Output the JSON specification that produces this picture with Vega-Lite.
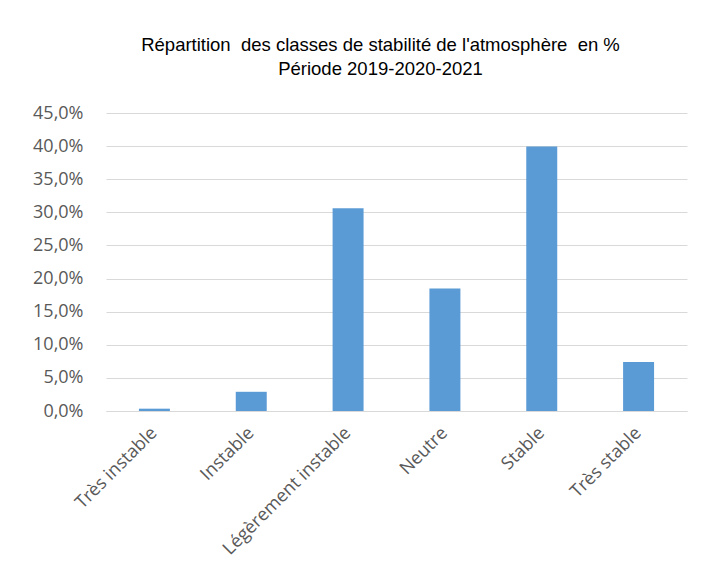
{
  "$schema": "https://vega.github.io/schema/vega-lite/v6.json",
  "width": 581,
  "height": 298,
  "padding": {"left": 32, "top": 35, "right": 16, "bottom": 10},
  "background": "white",
  "title": {
    "text": ["Répartition\u00a0 des classes de stabilité de l'atmosphère\u00a0 en %", "Période 2019-2020-2021"],
    "font": "Liberation Sans",
    "fontSize": 18.5,
    "fontWeight": "normal",
    "color": "#000000",
    "anchor": "middle",
    "dx": -16,
    "offset": 26,
    "lineHeight": 24
  },
  "data": {
    "values": [
      {"classe": "Très instable", "pct": 0.35},
      {"classe": "Instable", "pct": 2.9},
      {"classe": "Légèrement instable", "pct": 30.6},
      {"classe": "Neutre", "pct": 18.5},
      {"classe": "Stable", "pct": 39.95},
      {"classe": "Très stable", "pct": 7.4}
    ]
  },
  "mark": {"type": "bar", "color": "#5B9BD5"},
  "encoding": {
    "x": {
      "field": "classe",
      "type": "nominal",
      "sort": null,
      "scale": {"paddingInner": 0.68, "paddingOuter": 0.34},
      "axis": {
        "title": null,
        "labelAngle": -45,
        "labelAlign": "right",
        "labelBaseline": "middle",
        "labelFont": "Open Sans",
        "labelFontSize": 18,
        "labelColor": "#595959",
        "labelPadding": 19,
        "ticks": false,
        "domain": true,
        "domainColor": "#d9d9d9",
        "grid": false
      }
    },
    "y": {
      "field": "pct",
      "type": "quantitative",
      "scale": {"domain": [0, 45], "nice": false},
      "axis": {
        "title": null,
        "values": [0, 5, 10, 15, 20, 25, 30, 35, 40, 45],
        "labelExpr": "replace(format(datum.value, '.1f'), '.', ',') + '%'",
        "labelFont": "Open Sans",
        "labelFontSize": 18,
        "labelColor": "#595959",
        "labelPadding": 23,
        "ticks": false,
        "domain": false,
        "grid": true,
        "gridColor": "#d9d9d9",
        "gridWidth": 1
      }
    }
  },
  "config": {
    "view": {"stroke": null}
  }
}
